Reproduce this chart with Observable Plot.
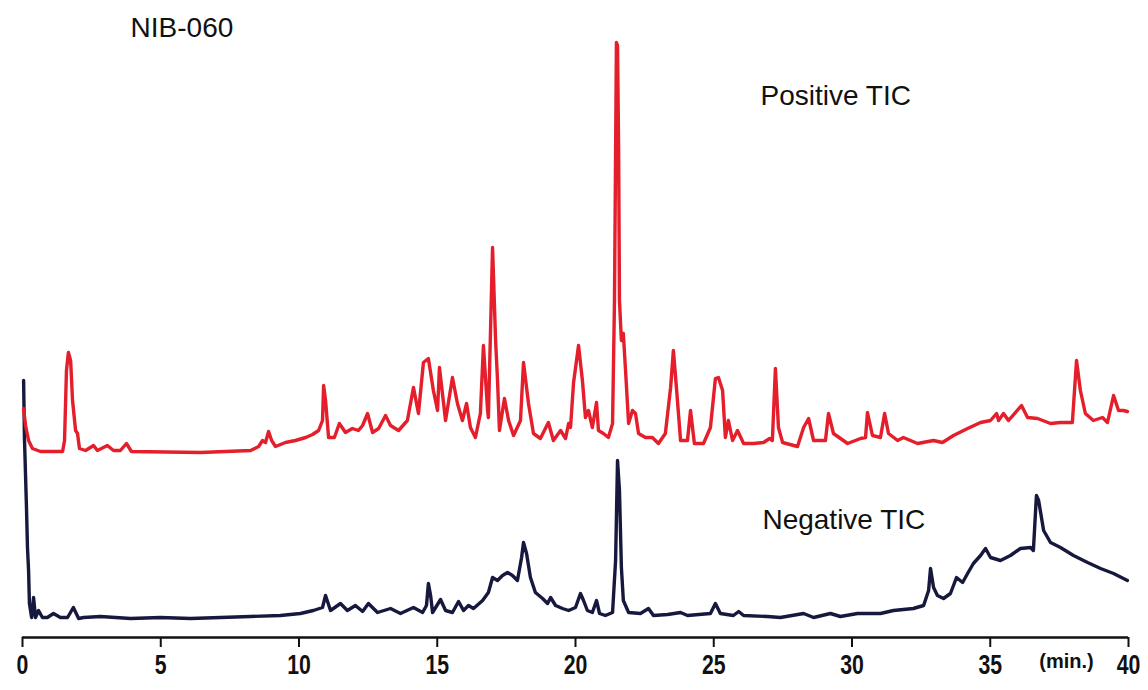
<!DOCTYPE html>
<html>
<head>
<meta charset="utf-8">
<script src="https://cdn.jsdelivr.net/npm/d3@7"></script>
<script src="https://cdn.jsdelivr.net/npm/@observablehq/plot@0.6"></script>
<style>
  html, body { margin: 0; padding: 0; background: #fff; }
  #chart svg { display: block; }
</style>
</head>
<body>
<div id="chart"></div>
<script>
// Retention time (min) and signal (arbitrary units)
const posTime = [0.04,0.11,0.22,0.36,0.65,1.45,1.52,1.59,1.66,1.74,1.81,1.92,1.99,2.06,2.28,2.57,2.71,3.07,3.29,3.54,3.76,3.94,6.44,8.25,8.54,8.68,8.79,8.90,9.01,9.15,9.51,9.87,10.24,10.49,10.71,10.85,10.89,10.96,11.07,11.28,11.46,11.68,11.93,12.15,12.30,12.48,12.66,12.88,13.13,13.31,13.60,13.92,14.14,14.32,14.50,14.68,14.86,15.01,15.08,15.30,15.55,15.73,15.91,16.06,16.20,16.38,16.56,16.67,16.82,16.85,17.00,17.11,17.18,17.25,17.43,17.58,17.76,18.01,18.12,18.30,18.48,18.73,19.02,19.20,19.46,19.64,19.75,19.82,19.93,20.11,20.25,20.36,20.47,20.61,20.76,20.83,21.01,21.19,21.34,21.41,21.48,21.52,21.56,21.59,21.66,21.73,21.81,21.92,22.06,22.17,22.28,22.53,22.78,23.00,23.25,23.44,23.54,23.65,23.80,24.05,24.16,24.30,24.63,24.88,25.06,25.17,25.32,25.42,25.53,25.68,25.86,26.08,26.44,26.80,27.02,27.12,27.23,27.34,27.49,28.03,28.25,28.43,28.61,29.04,29.15,29.33,29.84,30.31,30.49,30.56,30.74,31.03,31.18,31.32,31.65,31.86,32.37,32.95,33.27,33.67,34.18,34.65,35.01,35.23,35.30,35.48,35.66,36.13,36.35,36.71,37.18,37.54,37.97,38.12,38.26,38.44,38.73,39.06,39.24,39.46,39.64,39.82,39.96];
const posSignal = [229,212,197,189,186,186,197,267,285,277,237,207,204,189,187,192,187,192,187,187,194,186,185,187,191,197,195,206,197,191,195,197,200,203,207,217,252,237,200,200,214,205,209,207,212,224,205,209,222,212,207,217,250,224,275,279,247,227,270,217,260,234,217,234,210,200,224,292,227,220,390,297,257,207,239,217,202,217,275,234,204,199,215,197,207,199,214,210,255,292,257,220,227,210,235,207,204,200,214,337,595,592,487,337,297,304,267,214,227,224,204,200,200,194,204,250,287,250,197,197,227,194,194,210,259,260,247,200,217,197,207,194,194,195,199,197,269,210,195,191,210,219,197,197,224,204,194,199,200,225,202,200,224,204,197,200,194,197,195,202,209,215,217,224,217,224,217,232,220,219,214,215,215,277,247,224,217,220,215,242,227,227,226];

const negTime = [0.04,0.07,0.14,0.18,0.22,0.25,0.33,0.40,0.47,0.58,0.72,0.90,1.12,1.37,1.63,1.84,2.03,2.21,2.82,3.91,4.99,6.08,7.16,8.25,9.33,10.05,10.52,10.85,10.96,11.14,11.50,11.75,12.04,12.30,12.51,12.84,13.31,13.67,14.14,14.47,14.61,14.68,14.76,14.83,15.12,15.30,15.55,15.77,15.95,16.13,16.31,16.64,16.85,17.00,17.18,17.36,17.54,17.72,17.90,18.05,18.12,18.23,18.37,18.55,18.81,18.99,19.10,19.28,19.53,19.75,20.00,20.18,20.29,20.43,20.61,20.76,20.87,21.08,21.34,21.45,21.52,21.59,21.66,21.73,21.92,22.35,22.64,22.82,23.33,23.80,24.05,24.88,25.06,25.24,25.71,25.90,26.08,26.94,27.41,28.25,28.61,29.22,29.58,30.20,31.03,31.50,32.22,32.59,32.77,32.84,32.95,33.09,33.31,33.56,33.78,34.00,34.18,34.39,34.65,34.83,35.01,35.37,35.73,36.09,36.46,36.56,36.67,36.75,36.93,37.18,37.54,38.01,38.52,38.99,39.46,39.96];
const negSignal = [257,200,134,90,67,34,20,40,20,27,20,20,24,20,20,30,19,20,21,19,20,19,20,21,22,24,27,30,42,27,34,27,32,26,34,25,29,24,30,25,32,54,42,25,38,27,25,36,27,32,29,37,45,60,57,62,65,62,57,80,95,84,60,45,39,34,40,32,29,27,30,44,37,27,25,37,24,22,25,77,177,147,70,37,25,24,29,22,23,25,22,24,34,24,22,26,22,21,20,24,20,24,21,24,24,27,29,32,47,69,50,42,39,44,60,55,64,74,82,89,80,77,82,89,90,87,142,137,107,95,90,82,75,69,64,57];

const tickValues = [0,5,10,15,20,25,30,35,40];

const seriesNames = ["Positive TIC", "Negative TIC"];
const seriesColors = ["#e41e2b", "#16193d"];

const sampleName = "NIB-060";
const unitLabel = "(min.)";

// Label anchors (time, signal) for annotations
const labelTime = [3.91, 26.69, 26.76];
const labelSignal = [609, 541, 117];
const labelText = [sampleName, seriesNames[0], seriesNames[1]];

const pos = posTime.map((t, i) => ({t, v: posSignal[i], s: seriesNames[0]}));
const neg = negTime.map((t, i) => ({t, v: negSignal[i], s: seriesNames[1]}));
const labels = labelText.map((text, i) => ({text, t: labelTime[i], v: labelSignal[i]}));

const narrowFont = "'Liberation Sans', Arial, sans-serif";

const chart = Plot.plot({
  width: 1148,
  height: 690,
  marginLeft: 22,
  marginRight: 20,
  marginTop: 37,
  marginBottom: 53,
  style: {background: "#fff", overflow: "visible"},
  x: {domain: [0, 40]},
  y: {domain: [0, 600], axis: null},
  color: {domain: seriesNames, range: seriesColors},
  marks: [
    Plot.ruleY([0], {x1: 0, x2: 40, stroke: "#111", strokeWidth: 2.4}),
    Plot.axisX({
      ticks: tickValues,
      tickSize: 10,
      tickPadding: 7,
      tickFormat: d => String(d),
      fontSize: 28,
      fontWeight: "bold",
      fontFamily: narrowFont,
      stroke: "#111",
      strokeWidth: 2,
      fill: "#111",
      label: null,
      ariaLabel: "x-axis"
    }),
    Plot.line(neg, {x: "t", y: "v", stroke: "s", strokeWidth: 3.4, strokeLinejoin: "round", strokeLinecap: "round"}),
    Plot.line(pos, {x: "t", y: "v", stroke: "s", strokeWidth: 3.4, strokeLinejoin: "round", strokeLinecap: "round"}),
    Plot.text(labels, {x: "t", y: "v", text: "text", textAnchor: "start", fontSize: 28,
      fontFamily: "'Liberation Sans', Arial, sans-serif", fill: "#111"}),
    Plot.text([unitLabel], {x: 37.76, y: -24, text: d => d, fontSize: 20, fontWeight: "bold",
      fontFamily: narrowFont, fill: "#111", ariaLabel: "unit"})
  ]
});
document.getElementById("chart").appendChild(chart);

// Condense the bold axis lettering horizontally, like the narrow font of the original
d3.select(chart).selectAll('g[aria-label="x-axis tick label"] text, g[aria-label="unit"] text')
  .each(function() {
    const t = this.getAttribute("transform") || "";
    this.setAttribute("transform", t + " scale(0.76,1)");
  });
</script>
</body>
</html>
